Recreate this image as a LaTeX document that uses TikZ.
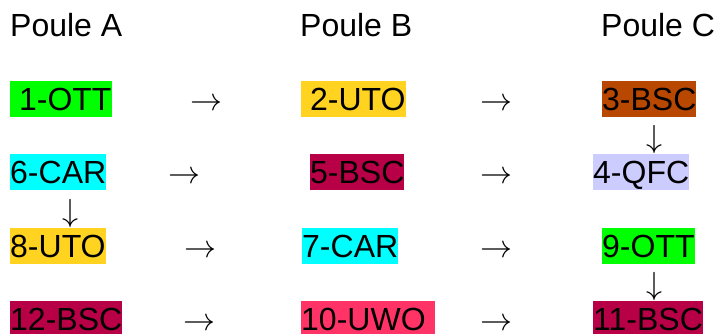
\documentclass[tikz,border=0pt]{standalone}
\usepackage{fix-cm}
\usepackage{fontspec}
\setmainfont{Liberation Sans}
\definecolor{cgreen}{HTML}{00FF00}
\definecolor{cyellow}{HTML}{FFD320}
\definecolor{cbrown}{HTML}{B84700}
\definecolor{ccyan}{HTML}{00FFFF}
\definecolor{cwine}{HTML}{B80047}
\definecolor{clav}{HTML}{CCCCFF}
\definecolor{cpink}{HTML}{FF3366}
\newcommand{\padsp}{\hspace{0.278em}}
\tikzset{
  big/.style={font=\fontsize{32}{38}\selectfont},
  team/.style={big, inner sep=0pt, text height=29pt, text depth=7pt, anchor=base west},
  lastrow/.style={text depth=4pt},
  head/.style={big, inner sep=0pt, anchor=base west},
  rarr/.style={big, inner sep=0pt, anchor=base west},
  darr/.style={big, inner sep=0pt, anchor=base}
}
\begin{document}
\begin{tikzpicture}[x=1pt,y=-1pt]
\useasboundingbox (0,0) rectangle (716,335);
% headings
\node[head] (hA) at (10,36) {Poule A};
\node[head] (hB) at (300,36) {Poule B};
\node[head] (hC) at (601,36) {Poule C};
% row 1
\node[team, fill=cgreen] (t1) at (10,110) {\padsp1-OTT\padsp};
\node[team, fill=cyellow] (t2) at (301,110) {\padsp2-UTO};
\node[team, fill=cbrown] (t3) at (602,110) {3-BSC};
% row 2
\node[team, fill=ccyan] (t6) at (10,183) {6-CAR};
\node[team, fill=cwine] (t5) at (310,183) {5-BSC};
\node[team, fill=clav] (t4) at (593,183) {4-QFC\padsp};
% row 3
\node[team, fill=cyellow] (t8) at (10,257) {8-UTO};
\node[team, fill=ccyan] (t7) at (302,257) {7-CAR};
\node[team, fill=cgreen] (t9) at (602,257) {9-OTT};
% row 4
\node[team, lastrow, fill=cwine] (t12) at (10,330) {12-BSC};
\node[team, lastrow, fill=cpink] (t10) at (301,330) {10-UWO\padsp\padsp};
\node[team, lastrow, fill=cwine] (t11) at (593,330) {11-BSC};
% right arrows
\node[rarr] (a1) at (190,110) {$\rightarrow$};
\node[rarr] (a2) at (480,110) {$\rightarrow$};
\node[rarr] (a3) at (168,183) {$\rightarrow$};
\node[rarr] (a4) at (480,183) {$\rightarrow$};
\node[rarr] (a5) at (184,257) {$\rightarrow$};
\node[rarr] (a6) at (480,257) {$\rightarrow$};
\node[rarr] (a7) at (183,330) {$\rightarrow$};
\node[rarr] (a8) at (480,330) {$\rightarrow$};
% down arrows
\node[darr] (d1) at (654,147) {$\downarrow$};
\node[darr] (d2) at (71,221) {$\downarrow$};
\node[darr] (d3) at (654,294) {$\downarrow$};
\end{tikzpicture}
\end{document}
